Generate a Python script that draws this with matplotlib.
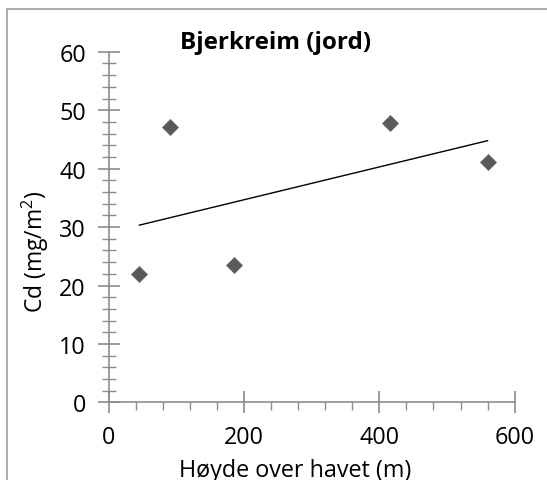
import matplotlib
matplotlib.use("Agg")
import matplotlib.pyplot as plt
import numpy as np
from matplotlib.lines import Line2D
from matplotlib.ticker import MultipleLocator

# data
hoyde = [45, 90, 185, 415, 560]
cd = [22.0, 47.1, 23.5, 47.9, 41.2]

title = "Bjerkreim (jord)"
xlabel = "Høyde over havet (m)"
ylabel = "Cd (mg/m$^2$)"

plt.rcParams['font.family'] = ['Open Sans', 'DejaVu Sans']
plt.rcParams['mathtext.fontset'] = 'custom'
plt.rcParams['mathtext.rm'] = 'Open Sans'

W, H = 547, 481
fig = plt.figure(figsize=(W / 100, H / 100), dpi=100)
fig.patch.set_facecolor("white")

x0, x1 = 108.9, 514.6   # pixel columns of x=0 and x=600
y0, y1 = 403.4, 52.8    # pixel rows of y=0 and y=60
ax = fig.add_axes([x0 / W, 1 - y0 / H, (x1 - x0) / W, (y0 - y1) / H])
ax.set_xlim(0, 600)
ax.set_ylim(0, 60)
ax.patch.set_alpha(0)

axis_grey = "#8c8c8c"
for side in ("top", "right"):
    ax.spines[side].set_visible(False)
for side in ("left", "bottom"):
    ax.spines[side].set_color(axis_grey)
    ax.spines[side].set_linewidth(1.2)

ax.xaxis.set_major_locator(MultipleLocator(200))
ax.xaxis.set_minor_locator(MultipleLocator(40))
ax.yaxis.set_major_locator(MultipleLocator(10))
ax.yaxis.set_minor_locator(MultipleLocator(2))

ax.tick_params(axis="both", which="major", direction="inout", length=16,
               width=1.2, color=axis_grey, labelsize=16.8, labelcolor="black")
ax.tick_params(axis="y", which="major", pad=8.5)
ax.tick_params(axis="x", which="major", pad=8)
ax.tick_params(axis="y", which="minor", direction="inout", length=10,
               width=1.0, color=axis_grey)
ax.tick_params(axis="x", which="minor", direction="out", length=6,
               width=1.0, color=axis_grey)

# scatter points
ax.plot(hoyde, cd, linestyle="none", marker="D", markersize=8,
        markerfacecolor="#5a5a5a", markeredgecolor="#6a6a6a",
        markeredgewidth=0.6, zorder=3)

# linear trendline
k, m = np.polyfit(hoyde, cd, 1)
xs = np.array([min(hoyde), max(hoyde)])
ax.plot(xs, k * xs + m, color="black", linewidth=1.0, zorder=2)

fig.text(275.6 / W, 1 - 43.3 / H, title, fontsize=17.5, fontweight="bold",
         ha="center", va="center")
fig.text(295 / W, 1 - 476.7 / H, xlabel, fontsize=16.8, ha="center",
         va="baseline")
fig.text(35 / W, 1 - 252 / H, ylabel, fontsize=16.5, ha="center", va="center",
         rotation=90)

# chart frame (only top and left visible in the crop)
frame_grey = "#a6a6a6"
fig.add_artist(Line2D([7 / W, 7 / W], [0, 1 - 10.3 / H], color=frame_grey,
                      linewidth=1.3, transform=fig.transFigure))
fig.add_artist(Line2D([7 / W, 1], [1 - 10.3 / H, 1 - 10.3 / H], color=frame_grey,
                      linewidth=1.3, transform=fig.transFigure))

fig.savefig("out.png", dpi=100)
